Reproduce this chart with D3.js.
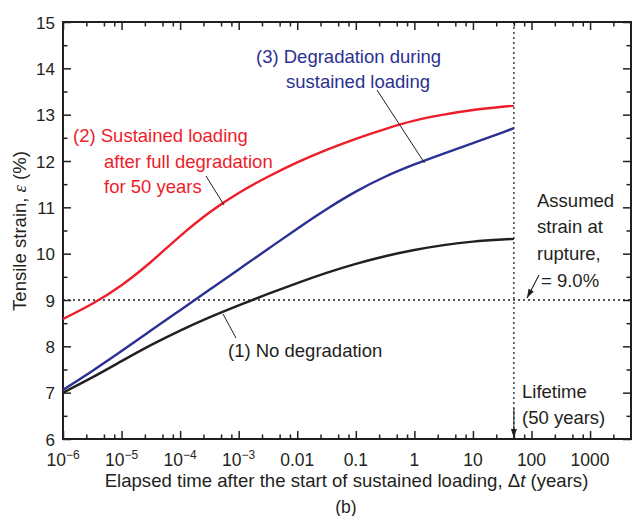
<!DOCTYPE html>
<html><head><meta charset="utf-8">
<script src="https://cdn.jsdelivr.net/npm/d3@7"></script>
<style>
body{margin:0;background:#fff}
svg{display:block}
text{font-family:"Liberation Sans",Arial,Helvetica,sans-serif;fill:#231f20}
</style>
</head><body>
<svg id="c" width="632" height="516"></svg>
<script>
// ---- data ----
const timeYears = [1e-6, 3.162e-6, 1e-5, 3.162e-5, 1e-4, 3.162e-4, 1e-3, 3.162e-3, 0.01, 0.03162, 0.1, 0.3162, 1, 3.162, 10, 31.62, 50];
const strainNoDegradation   = [7.00, 7.33, 7.68, 8.025, 8.34, 8.625, 8.885, 9.13, 9.365, 9.585, 9.78, 9.945, 10.08, 10.185, 10.26, 10.305, 10.32];
const strainFullDegradation = [8.59, 8.92, 9.32, 9.82, 10.38, 10.89, 11.31, 11.66, 11.97, 12.24, 12.48, 12.69, 12.87, 13.00, 13.10, 13.17, 13.195];
const strainDegradDuring    = [7.06, 7.47, 7.90, 8.34, 8.78, 9.22, 9.66, 10.10, 10.54, 10.96, 11.34, 11.66, 11.925, 12.16, 12.385, 12.615, 12.71];
const xTickValues = [1e-6, 1e-5, 1e-4, 1e-3, 0.01, 0.1, 1, 10, 100, 1000];
const xTickBase   = ["10", "10", "10", "10", "0.01", "0.1", "1", "10", "100", "1000"];
const xTickExp    = ["−6", "−5", "−4", "−3", "", "", "", "", "", ""];
const xMinorMultipliers = [2.5, 5, 7.5];
const yTickValues = [6, 7, 8, 9, 10, 11, 12, 13, 14, 15];
const yMinorValues = [6.5, 7.5, 8.5, 9.5, 10.5, 11.5, 12.5, 13.5, 14.5];
const ruptureStrain = 9.0;
const lifetimeYears = 50;
const xDomain = [1e-6, 5000];
const yDomain = [6, 15];

// ---- layout ----
const M = {left: 63, right: 631, top: 22, bottom: 439};
const RED = "#ee1d2a", BLUE = "#2b3192", BLACK = "#231f20";
const svg = d3.select("#c");
const x = d3.scaleLog().domain(xDomain).range([M.left, M.right]);
const y = d3.scaleLinear().domain(yDomain).range([M.bottom, M.top]);

const xMinor = [];
xTickValues.forEach(v => xMinorMultipliers.forEach(m => { const t = v * m; if (t < xDomain[1]) xMinor.push(t); }));

// reference dotted lines
svg.append("line").attr("x1", M.left).attr("x2", M.right).attr("y1", y(ruptureStrain)).attr("y2", y(ruptureStrain))
  .attr("stroke", BLACK).attr("stroke-width", 1.3).attr("stroke-dasharray", "2,3");
svg.append("line").attr("x1", x(lifetimeYears)).attr("x2", x(lifetimeYears)).attr("y1", M.top).attr("y2", M.bottom)
  .attr("stroke", BLACK).attr("stroke-width", 1.3).attr("stroke-dasharray", "2,3");

// axes (ticks inward on all four sides)
function styleAxis(g) { g.select(".domain").remove(); g.selectAll(".tick line").attr("stroke", BLACK).attr("stroke-width", 1.5); }
svg.append("g").attr("transform", `translate(0,${M.bottom})`).call(d3.axisBottom(x).tickValues(xTickValues).tickSize(-8).tickFormat("")).call(styleAxis);
svg.append("g").attr("transform", `translate(0,${M.bottom})`).call(d3.axisBottom(x).tickValues(xMinor).tickSize(-4.5).tickFormat("")).call(styleAxis);
svg.append("g").attr("transform", `translate(0,${M.top})`).call(d3.axisTop(x).tickValues(xTickValues).tickSize(-8).tickFormat("")).call(styleAxis);
svg.append("g").attr("transform", `translate(0,${M.top})`).call(d3.axisTop(x).tickValues(xMinor).tickSize(-4.5).tickFormat("")).call(styleAxis);
svg.append("g").attr("transform", `translate(${M.left},0)`).call(d3.axisLeft(y).tickValues(yTickValues).tickSize(-8).tickPadding(8).tickFormat(d3.format("d"))).call(styleAxis)
  .selectAll(".tick text").attr("font-size", "17px").attr("fill", BLACK).attr("dy", "0.36em");
svg.append("g").attr("transform", `translate(${M.left},0)`).call(d3.axisLeft(y).tickValues(yMinorValues).tickSize(-4.5).tickFormat("")).call(styleAxis);
svg.append("g").attr("transform", `translate(${M.right},0)`).call(d3.axisRight(y).tickValues(yTickValues).tickSize(-8).tickFormat("")).call(styleAxis);
svg.append("g").attr("transform", `translate(${M.right},0)`).call(d3.axisRight(y).tickValues(yMinorValues).tickSize(-4.5).tickFormat("")).call(styleAxis);

// x tick labels with superscripts
const xl = svg.append("g").selectAll("text").data(xTickValues).join("text")
  .attr("x", d => x(d)).attr("y", 465.5).attr("text-anchor", "middle").attr("font-size", "17.5px");
xl.append("tspan").text((d, i) => xTickBase[i]);
xl.append("tspan").attr("font-size", "12px").attr("dy", -7).text((d, i) => xTickExp[i]);

// frame
svg.append("rect").attr("x", M.left).attr("y", M.top).attr("width", M.right - M.left).attr("height", M.bottom - M.top)
  .attr("fill", "none").attr("stroke", BLACK).attr("stroke-width", 2);

// curves
const line = d3.line().x(d => x(d[0])).y(d => y(d[1])).curve(d3.curveNatural);
[[strainFullDegradation, RED], [strainDegradDuring, BLUE], [strainNoDegradation, BLACK]].forEach(([vals, col]) => {
  svg.append("path").datum(timeYears.map((t, i) => [t, vals[i]])).attr("d", line)
    .attr("fill", "none").attr("stroke", col).attr("stroke-width", 2.4);
});

// axis titles (font size fitted to the reference text width)
function fit(t, target) { const w = t.node().getComputedTextLength(); t.attr("font-size", (17.5 * target / w).toFixed(2) + "px"); }
const xt = svg.append("text").attr("x", 346.5).attr("y", 487).attr("text-anchor", "middle").attr("font-size", "17.5px");
xt.append("tspan").text("Elapsed time after the start of sustained loading, Δ");
xt.append("tspan").attr("font-style", "italic").text("t");
xt.append("tspan").text(" (years)");
fit(xt, 484);
const yt = svg.append("text").attr("transform", "translate(26,231) rotate(-90)").attr("text-anchor", "middle").attr("font-size", "17.5px");
yt.append("tspan").text("Tensile strain, ");
yt.append("tspan").attr("font-style", "italic").attr("font-family", "'Liberation Serif',serif").text("ε");
yt.append("tspan").text(" (%)");
fit(yt, 160);
svg.append("text").attr("x", 346).attr("y", 513).attr("text-anchor", "middle").attr("font-size", "17.5px").text("(b)");

// annotations
function label(lines, x0, y0, dy, col) {
  lines.forEach((s, i) => svg.append("text").attr("x", x0[i]).attr("y", y0 + i * dy).attr("font-size", "18.5px").style("fill", col).text(s));
}
label(["(2) Sustained loading", "after full degradation", "for 50 years"], [73, 104, 104], 142, 25.5, RED);
label(["(3) Degradation during", "sustained loading"], [256, 286], 63, 24.5, BLUE);
label(["(1) No degradation"], [228], 357, 0, BLACK);
label(["Assumed", "strain at", "rupture,"], [537, 537, 537], 207, 26.4, BLACK);
svg.append("text").attr("x", 541).attr("y", 286.5).attr("font-size", "18.5px").text("= 9.0%");
label(["Lifetime", "(50 years)"], [522, 522], 397.5, 26.7, BLACK);

function leader(x1, y1, x2, y2) {
  svg.append("line").attr("x1", x1).attr("y1", y1).attr("x2", x2).attr("y2", y2).attr("stroke", BLACK).attr("stroke-width", 1);
}
leader(206, 176, 224, 205);
leader(377, 90, 424.5, 163);
leader(223, 314, 236, 338);

function arrow(x1, y1, x2, y2) {
  svg.append("line").attr("x1", x1).attr("y1", y1).attr("x2", x2).attr("y2", y2).attr("stroke", BLACK).attr("stroke-width", 1.1);
  const a = Math.atan2(y2 - y1, x2 - x1), L = 9, W = 3;
  const bx = x2 - L * Math.cos(a), by = y2 - L * Math.sin(a);
  svg.append("path").attr("d", `M${x2},${y2}L${bx + W * Math.sin(a)},${by - W * Math.cos(a)}L${bx - W * Math.sin(a)},${by + W * Math.cos(a)}Z`).attr("fill", BLACK);
}
arrow(539, 275, 527, 298);
arrow(x(lifetimeYears), 408, x(lifetimeYears), 438);
</script>
</body></html>
